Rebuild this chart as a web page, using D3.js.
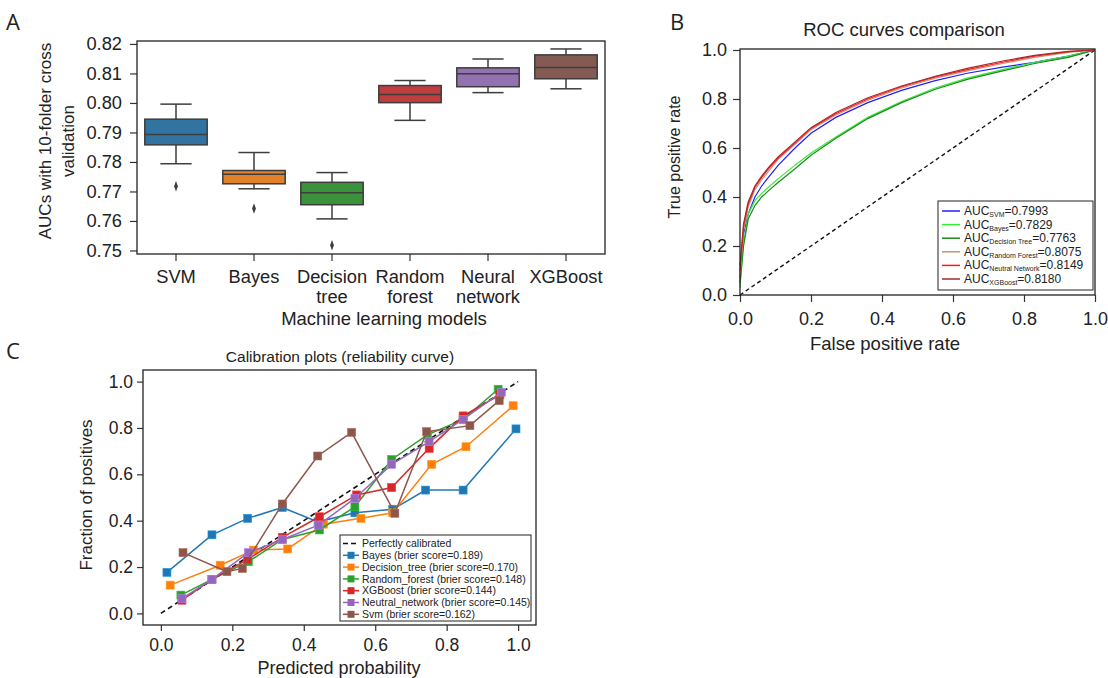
<!DOCTYPE html>
<meta charset="utf-8">
<style>
body { margin: 0; background: #fff; }
text { font-family: "Liberation Sans", Arial, sans-serif; fill: #222; }
.tick line { stroke: #333; }
.frame { fill: none; stroke: #222; stroke-width: 1.3px; }
.letter { font-size: 22px; font-family: "Open Sans", "Liberation Sans", sans-serif; }
</style>
<svg width="1108" height="678"></svg>
<script src="https://cdn.jsdelivr.net/npm/d3@7"></script>
<script>

var svg = d3.select("svg");

// ---- panel A data: box plot stats
var models = ["SVM", "Bayes", "Decision tree", "Random forest", "Neural network", "XGBoost"];
var modelLines = [["SVM"], ["Bayes"], ["Decision", "tree"], ["Random", "forest"], ["Neural", "network"], ["XGBoost"]];
var boxColors = ["#3274a1", "#e1812c", "#3a923a", "#c03d3e", "#9372b2", "#845b53"];
var whiskLow = [0.7794, 0.7709, 0.7607, 0.7941, 0.8035, 0.8048];
var q1 = [0.7858, 0.7726, 0.7655, 0.8001, 0.8055, 0.8082];
var med = [0.7893, 0.7758, 0.7696, 0.8029, 0.8099, 0.8120];
var q3 = [0.7945, 0.7771, 0.7731, 0.8059, 0.8119, 0.8163];
var whiskHigh = [0.7996, 0.7832, 0.7764, 0.8076, 0.8149, 0.8183];
var outliers = [[0.7718], [0.7642], [0.7518], [], [], []];
var aTicks = [0.75, 0.76, 0.77, 0.78, 0.79, 0.80, 0.81, 0.82];

// ---- panel B data: ROC curves
var rocNames = ["SVM", "Bayes", "Decision Tree", "Random Forest", "Neutral Network", "XGBoost"];
var rocAuc = ["0.7993", "0.7829", "0.7763", "0.8075", "0.8149", "0.8180"];
var rocColors = ["#1f1fff", "#33ee33", "#1a8a1a", "#c9937a", "#ff1a1a", "#a52a2a"];
var rocFpr = [0, 0.01, 0.023, 0.042, 0.061, 0.08, 0.108, 0.155, 0.2, 0.27, 0.36, 0.455, 0.55, 0.64, 0.74, 0.83, 0.925, 1];
var tprSvm = [0.07, 0.25, 0.33, 0.40, 0.445, 0.48, 0.53, 0.60, 0.66, 0.725, 0.785, 0.835, 0.875, 0.905, 0.93, 0.95, 0.975, 1];
var tprBayes = [0.03, 0.21, 0.33, 0.385, 0.415, 0.44, 0.475, 0.53, 0.58, 0.645, 0.725, 0.79, 0.845, 0.885, 0.92, 0.95, 0.975, 1];
var tprTree = [0.05, 0.20, 0.31, 0.365, 0.40, 0.425, 0.46, 0.515, 0.57, 0.64, 0.72, 0.785, 0.84, 0.88, 0.915, 0.945, 0.97, 1];
var tprForest = [0.08, 0.26, 0.36, 0.43, 0.47, 0.505, 0.555, 0.615, 0.675, 0.735, 0.795, 0.845, 0.885, 0.915, 0.945, 0.97, 0.99, 1];
var tprNet = [0.10, 0.28, 0.37, 0.44, 0.48, 0.515, 0.56, 0.62, 0.68, 0.74, 0.80, 0.85, 0.89, 0.92, 0.95, 0.975, 0.993, 1];
var tprXgb = [0.12, 0.29, 0.38, 0.445, 0.485, 0.52, 0.565, 0.625, 0.683, 0.745, 0.805, 0.853, 0.893, 0.925, 0.955, 0.978, 0.994, 1];
var rocTpr = [tprSvm, tprBayes, tprTree, tprForest, tprNet, tprXgb];

// ---- panel C data: calibration curves
var calNames = ["Bayes", "Decision_tree", "Random_forest", "XGBoost", "Neutral_network", "Svm"];
var calBrier = ["0.189", "0.170", "0.148", "0.144", "0.145", "0.162"];
var calColors = ["#1f77b4", "#ff7f0e", "#2ca02c", "#d62728", "#9467bd", "#8c564b"];
var predBayes = [0.017, 0.143, 0.243, 0.34, 0.44, 0.543, 0.649, 0.741, 0.846, 0.994];
var fracBayes = [0.177, 0.339, 0.41, 0.457, 0.395, 0.434, 0.449, 0.532, 0.532, 0.796];
var predTree = [0.026, 0.166, 0.259, 0.355, 0.455, 0.56, 0.649, 0.758, 0.854, 0.986];
var fracTree = [0.122, 0.208, 0.273, 0.278, 0.385, 0.41, 0.434, 0.643, 0.719, 0.896];
var predForest = [0.056, 0.143, 0.245, 0.34, 0.444, 0.543, 0.646, 0.746, 0.846, 0.944];
var fracForest = [0.079, 0.147, 0.223, 0.319, 0.36, 0.46, 0.664, 0.77, 0.837, 0.967];
var predXgb = [0.059, 0.143, 0.243, 0.34, 0.444, 0.548, 0.646, 0.751, 0.846, 0.949];
var fracXgb = [0.057, 0.147, 0.233, 0.328, 0.417, 0.511, 0.543, 0.712, 0.852, 0.943];
var predNet = [0.059, 0.143, 0.245, 0.34, 0.441, 0.543, 0.646, 0.751, 0.846, 0.953];
var fracNet = [0.064, 0.147, 0.262, 0.319, 0.381, 0.496, 0.643, 0.741, 0.837, 0.954];
var predSvm = [0.062, 0.185, 0.228, 0.34, 0.439, 0.534, 0.655, 0.744, 0.865, 0.947];
var fracSvm = [0.262, 0.18, 0.194, 0.472, 0.679, 0.781, 0.432, 0.784, 0.81, 0.918];
var calPred = [predBayes, predTree, predForest, predXgb, predNet, predSvm];
var calFrac = [fracBayes, fracTree, fracForest, fracXgb, fracNet, fracSvm];
var unitTicks = [0, 0.2, 0.4, 0.6, 0.8, 1.0];

function styleAxis(size) {
  return function(g) {
    g.select(".domain").remove();
    g.selectAll(".tick line").attr("stroke", "#333").attr("stroke-width", 1.2);
    g.selectAll(".tick text").attr("fill", "#222").style("font-size", size + "px");
  };
}

function label(x, y, txt, size, rot) {
  return svg.append("text")
    .attr("transform", "translate(" + x + "," + y + ")" + (rot ? " rotate(-90)" : ""))
    .attr("text-anchor", "middle").style("font-size", size + "px").text(txt);
}

// ================= A =================
var ax = d3.scaleBand().domain(models).range([137, 605]).padding(0);
var ay = d3.scaleLinear().domain([0.7488, 0.8210]).range([254, 41]);

svg.append("text").attr("class", "letter").attr("x", 6).attr("y", 30).text("A");

svg.append("g").attr("transform", "translate(137,0)")
  .call(d3.axisLeft(ay).tickValues(aTicks).tickFormat(d3.format(".2f")).tickSize(7).tickPadding(8))
  .call(styleAxis(18.3));

var axg = svg.append("g").attr("transform", "translate(0,254)")
  .call(d3.axisBottom(ax).tickSize(7).tickFormat(""))
  .call(styleAxis(18.3));
axg.selectAll(".tick").each(function(d, i) {
  var t = d3.select(this).append("text").attr("y", 29).attr("text-anchor", "middle")
    .style("font-size", "18.3px").attr("fill", "#222");
  modelLines[i].forEach(function(s, j) {
    t.append("tspan").attr("x", 0).attr("dy", j ? 19.5 : 0).text(s);
  });
});

var bw = ax.bandwidth() * 0.8;
svg.append("g").selectAll("g").data(models).enter().append("g").each(function(m, i) {
  var g = d3.select(this), cx = ax(m) + ax.bandwidth() / 2;
  var ln = "#3d3d3d";
  g.append("line").attr("x1", cx).attr("x2", cx).attr("y1", ay(whiskHigh[i])).attr("y2", ay(q3[i])).attr("stroke", ln).attr("stroke-width", 1.5);
  g.append("line").attr("x1", cx).attr("x2", cx).attr("y1", ay(q1[i])).attr("y2", ay(whiskLow[i])).attr("stroke", ln).attr("stroke-width", 1.5);
  [whiskHigh[i], whiskLow[i]].forEach(function(v) {
    g.append("line").attr("x1", cx - bw / 4).attr("x2", cx + bw / 4).attr("y1", ay(v)).attr("y2", ay(v)).attr("stroke", ln).attr("stroke-width", 1.5);
  });
  g.append("rect").attr("x", cx - bw / 2).attr("width", bw)
    .attr("y", ay(q3[i])).attr("height", ay(q1[i]) - ay(q3[i]))
    .attr("fill", boxColors[i]).attr("stroke", ln).attr("stroke-width", 1.5);
  g.append("line").attr("x1", cx - bw / 2).attr("x2", cx + bw / 2).attr("y1", ay(med[i])).attr("y2", ay(med[i])).attr("stroke", ln).attr("stroke-width", 1.5);
  outliers[i].forEach(function(v) {
    g.append("path").attr("d", d3.symbol(d3.symbolDiamond, 22)()).attr("transform", "translate(" + cx + "," + ay(v) + ") scale(0.75,1.2)").attr("fill", "#3d3d3d");
  });
});

svg.append("rect").attr("class", "frame").attr("x", 137).attr("y", 41).attr("width", 468).attr("height", 213);

label(384, 325, "Machine learning models", 18.5);
var ylab = svg.append("text").attr("transform", "translate(51,141) rotate(-90)").attr("text-anchor", "middle").style("font-size", "17px");
ylab.append("tspan").attr("x", 0).attr("dy", 0).text("AUCs with 10-folder cross");
ylab.append("tspan").attr("x", 0).attr("dy", 23).text("validation");

// ================= B =================
var bx = d3.scaleLinear().domain([0, 1]).range([740, 1095]);
var by = d3.scaleLinear().domain([0, 1]).range([295, 50]);

svg.append("text").attr("class", "letter").attr("x", 670).attr("y", 30).text("B");
label(904, 36, "ROC curves comparison", 18.5);

svg.append("g").attr("transform", "translate(740,0)")
  .call(d3.axisLeft(by).tickValues(unitTicks).tickFormat(d3.format(".1f")).tickSize(7).tickPadding(6))
  .call(styleAxis(18));
svg.append("g").attr("transform", "translate(0,295)")
  .call(d3.axisBottom(bx).tickValues(unitTicks).tickFormat(d3.format(".1f")).tickSize(7).tickPadding(10))
  .call(styleAxis(18));

svg.append("line").attr("x1", bx(0)).attr("y1", by(0)).attr("x2", bx(1)).attr("y2", by(1))
  .attr("stroke", "#111").attr("stroke-width", 1.4).attr("stroke-dasharray", "4,3");

var rocLine = d3.line().x(function(d) { return bx(d[0]); }).y(function(d) { return by(d[1]); });
rocTpr.forEach(function(tpr, i) {
  svg.append("path").datum(rocFpr.map(function(f, k) { return [f, tpr[k]]; }))
    .attr("d", rocLine).attr("fill", "none").attr("stroke", rocColors[i]).attr("stroke-width", 1.2);
});

svg.append("rect").attr("class", "frame").attr("x", 740).attr("y", 49).attr("width", 355).attr("height", 246);

var bleg = svg.append("g");
bleg.append("rect").attr("x", 938).attr("y", 201).attr("width", 155).attr("height", 89).attr("fill", "#fff").attr("stroke", "#222").attr("stroke-width", 1);
rocNames.forEach(function(n, i) {
  var yy = 211 + i * 13.6;
  bleg.append("line").attr("x1", 942).attr("x2", 960).attr("y1", yy).attr("y2", yy).attr("stroke", rocColors[i]).attr("stroke-width", 1.5);
  var t = bleg.append("text").attr("x", 964).attr("y", yy + 4).style("font-size", "12px");
  t.append("tspan").text("AUC");
  t.append("tspan").attr("dy", 2).style("font-size", "7px").text(n);
  t.append("tspan").attr("dy", -2).text("=" + rocAuc[i]);
});

label(885, 350, "False positive rate", 18.5);
label(680, 157, "True positive rate", 16, true);

// ================= C =================
var cx = d3.scaleLinear().domain([-0.05, 1.05]).range([143, 536]);
var cy = d3.scaleLinear().domain([-0.05, 1.05]).range([625, 370]);

svg.append("text").attr("class", "letter").attr("x", 6).attr("y", 359).text("C");
label(340, 362, "Calibration plots (reliability curve)", 15.5);

svg.append("g").attr("transform", "translate(143,0)")
  .call(d3.axisLeft(cy).tickValues(unitTicks).tickFormat(d3.format(".1f")).tickSize(6).tickPadding(4))
  .call(styleAxis(17.5));
svg.append("g").attr("transform", "translate(0,625)")
  .call(d3.axisBottom(cx).tickValues(unitTicks).tickFormat(d3.format(".1f")).tickSize(6).tickPadding(8))
  .call(styleAxis(17.5));

svg.append("line").attr("x1", cx(0)).attr("y1", cy(0)).attr("x2", cx(1)).attr("y2", cy(1))
  .attr("stroke", "#111").attr("stroke-width", 1.6).attr("stroke-dasharray", "5,3.5");

var calLine = d3.line().x(function(d) { return cx(d[0]); }).y(function(d) { return cy(d[1]); });
calPred.forEach(function(pred, i) {
  var pts = pred.map(function(p, k) { return [p, calFrac[i][k]]; });
  var g = svg.append("g");
  g.append("path").datum(pts).attr("d", calLine).attr("fill", "none").attr("stroke", calColors[i]).attr("stroke-width", 1.5);
  g.selectAll("rect").data(pts).enter().append("rect")
    .attr("x", function(d) { return cx(d[0]) - 4; }).attr("y", function(d) { return cy(d[1]) - 4; })
    .attr("width", 8).attr("height", 8).attr("fill", calColors[i])
    .attr("stroke", d3.color(calColors[i]).brighter(0.6)).attr("stroke-width", 0.6);
});

svg.append("rect").attr("class", "frame").attr("x", 143).attr("y", 370).attr("width", 393).attr("height", 255);

var cleg = svg.append("g");
cleg.append("rect").attr("x", 340).attr("y", 535).attr("width", 191).attr("height", 86).attr("fill", "#fff").attr("stroke", "#222").attr("stroke-width", 1);
cleg.append("line").attr("x1", 343).attr("x2", 359).attr("y1", 543.5).attr("y2", 543.5).attr("stroke", "#111").attr("stroke-width", 1.6).attr("stroke-dasharray", "5,3");
cleg.append("text").attr("x", 362).attr("y", 547).style("font-size", "10.5px").text("Perfectly calibrated");
calNames.forEach(function(n, i) {
  var yy = 555.3 + i * 11.8;
  cleg.append("line").attr("x1", 343).attr("x2", 359).attr("y1", yy).attr("y2", yy).attr("stroke", calColors[i]).attr("stroke-width", 1.5);
  cleg.append("rect").attr("x", 347.5).attr("y", yy - 3.5).attr("width", 7).attr("height", 7).attr("fill", calColors[i]);
  cleg.append("text").attr("x", 362).attr("y", yy + 3.7).style("font-size", "10.5px").text(n + " (brier score=" + calBrier[i] + ")");
});

label(339, 674, "Predicted probability", 18);
label(92, 495, "Fraction of positives", 17, true);

</script>
